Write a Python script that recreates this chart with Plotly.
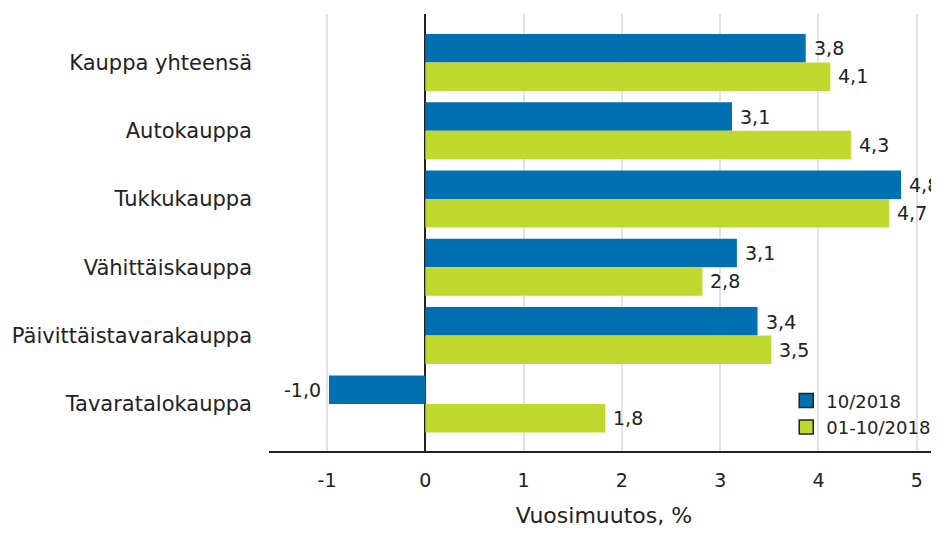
import plotly.graph_objects as go

categories = ["Kauppa yhteensä", "Autokauppa", "Tukkukauppa", "Vähittäiskauppa",
              "Päivittäistavarakauppa", "Tavaratalokauppa"]
series_names = ["10/2018", "01-10/2018"]
values_month = [3.87, 3.12, 4.84, 3.17, 3.38, -0.98]
values_ytd = [4.12, 4.33, 4.72, 2.82, 3.52, 1.83]
labels_month = ["3,8", "3,1", "4,8", "3,1", "3,4", "-1,0"]
labels_ytd = ["4,1", "4,3", "4,7", "2,8", "3,5", "1,8"]
x_ticks = [-1, 0, 1, 2, 3, 4, 5]

BLUE = "#0070B0"
GREEN = "#C1D82F"
TXT = "#222222"
FONT = "DejaVu Sans, Verdana, sans-serif"

fig = go.Figure()
fig.add_trace(go.Bar(y=categories, x=values_month, orientation="h", name=series_names[0],
                     marker=dict(color=BLUE, line=dict(width=0)),
                     showlegend=False, hoverinfo="skip"))
fig.add_trace(go.Bar(y=categories, x=values_ytd, orientation="h", name=series_names[1],
                     marker=dict(color=GREEN, line=dict(width=0)),
                     showlegend=False, hoverinfo="skip"))
# legend entries with outlined squares
for nm, col in zip(series_names, [BLUE, GREEN]):
    fig.add_trace(go.Scatter(x=[None], y=[None], mode="markers", name=nm,
                             marker=dict(symbol="square", size=14, color=col,
                                         line=dict(color="#222222", width=1.5))))

# value labels
for vals, labs, ysh in [(values_month, labels_month, 14), (values_ytd, labels_ytd, -14)]:
    for cat, v, lab in zip(categories, vals, labs):
        fig.add_annotation(x=v, y=cat, text=lab, showarrow=False,
                           xanchor="left" if v >= 0 else "right",
                           xshift=6 if v >= 0 else -6, yshift=ysh,
                           font=dict(size=19, color=TXT, family=FONT))

fig.update_layout(
    width=931, height=527,
    margin=dict(l=261, r=0, t=6, b=84),
    paper_bgcolor="white", plot_bgcolor="white",
    barmode="group", bargap=0.165, bargroupgap=0,
    font=dict(family=FONT, size=19, color=TXT),
    legend=dict(x=0.772, y=0.085, xanchor="left", yanchor="middle",
                bgcolor="rgba(0,0,0,0)", font=dict(size=18, color=TXT, family=FONT),
                itemwidth=30, tracegroupgap=0),
    xaxis=dict(range=[-1.59, 5.226], tickvals=x_ticks, ticktext=[str(v) for v in x_ticks],
               showgrid=True, gridcolor="#E3E3E3", gridwidth=1.5,
               zeroline=True, zerolinecolor="#222222", zerolinewidth=1.5,
               showline=True, linecolor="#222222", linewidth=1.5,
               ticks="", ticklabelstandoff=11, tickfont=dict(size=19),
               title=dict(text="Vuosimuutos, %", standoff=18,
                          font=dict(size=22, color=TXT, family=FONT)),
               fixedrange=True),
    yaxis=dict(range=[5.69, -0.71], type="category", showgrid=False, zeroline=False,
               showline=False, ticks="", ticklabelstandoff=16,
               tickfont=dict(size=21), fixedrange=True),
)

fig.write_html("out.html")
